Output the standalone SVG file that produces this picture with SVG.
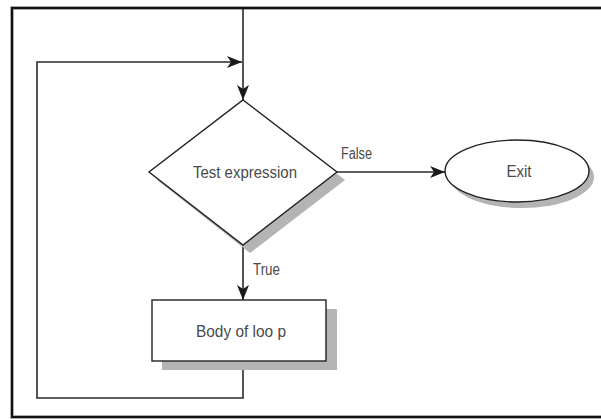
<svg xmlns="http://www.w3.org/2000/svg" width="601" height="419" viewBox="0 0 601 419">
  <style>
    .shape { fill: #ffffff; stroke: #222222; stroke-width: 1.4; }
    .shadow { fill: #b4b4b4; stroke: none; }
    .wire { fill: none; stroke: #2a2a2a; stroke-width: 1.6; }
    .label { font-family: "Liberation Sans", Arial, sans-serif; font-size: 16px; fill: #4a4a4a; }
  </style>
  <defs>
    <marker id="arrow" markerWidth="15" markerHeight="12" refX="15" refY="6" orient="auto" markerUnits="userSpaceOnUse">
      <path d="M0,0 L15,6 L0,12 L4,6 Z" fill="#1a1a1a"/>
    </marker>
  </defs>

  <rect width="601" height="419" fill="#ffffff"/>

  <!-- outer frame -->
  <g id="frame">
    <rect x="12" y="8" width="600" height="409" fill="none" stroke="#bdbdbd" stroke-width="4"/>
    <rect x="12" y="8" width="600" height="409" fill="none" stroke="#111111" stroke-width="2.2"/>
  </g>

  <!-- connectors -->
  <g id="connectors">
    <line class="wire" x1="243" y1="9" x2="243" y2="100" marker-end="url(#arrow)"/>
    <polyline class="wire" points="243,361 243,398 37,398 37,62 242,62" marker-end="url(#arrow)"/>
    <line class="wire" x1="337" y1="172" x2="445" y2="172" marker-end="url(#arrow)"/>
    <line class="wire" x1="243" y1="245" x2="243" y2="300" marker-end="url(#arrow)"/>
    <text class="label" x="341" y="159" textLength="31" lengthAdjust="spacingAndGlyphs">False</text>
    <text class="label" x="253" y="275" textLength="27" lengthAdjust="spacingAndGlyphs">True</text>
  </g>

  <!-- decision node -->
  <g id="test-expression">
    <polygon class="shadow" points="250,107 345,180 250,253 157,180"/>
    <polygon class="shape" points="243,100 337,172 243,245 149,172"/>
    <text class="label" x="245" y="178" text-anchor="middle" textLength="104" lengthAdjust="spacingAndGlyphs">Test expression</text>
  </g>

  <!-- terminal node -->
  <g id="exit">
    <ellipse class="shadow" cx="522" cy="177" rx="72" ry="31"/>
    <ellipse class="shape" cx="517" cy="171" rx="72" ry="31"/>
    <text class="label" x="519" y="177" text-anchor="middle" textLength="25" lengthAdjust="spacingAndGlyphs">Exit</text>
  </g>

  <!-- process node -->
  <g id="body-of-loop">
    <rect class="shadow" x="162" y="309" width="175" height="61"/>
    <rect class="shape" x="152" y="300" width="174" height="61"/>
    <text class="label" x="241" y="337" text-anchor="middle" textLength="90" lengthAdjust="spacingAndGlyphs">Body of loo p</text>
  </g>
</svg>
